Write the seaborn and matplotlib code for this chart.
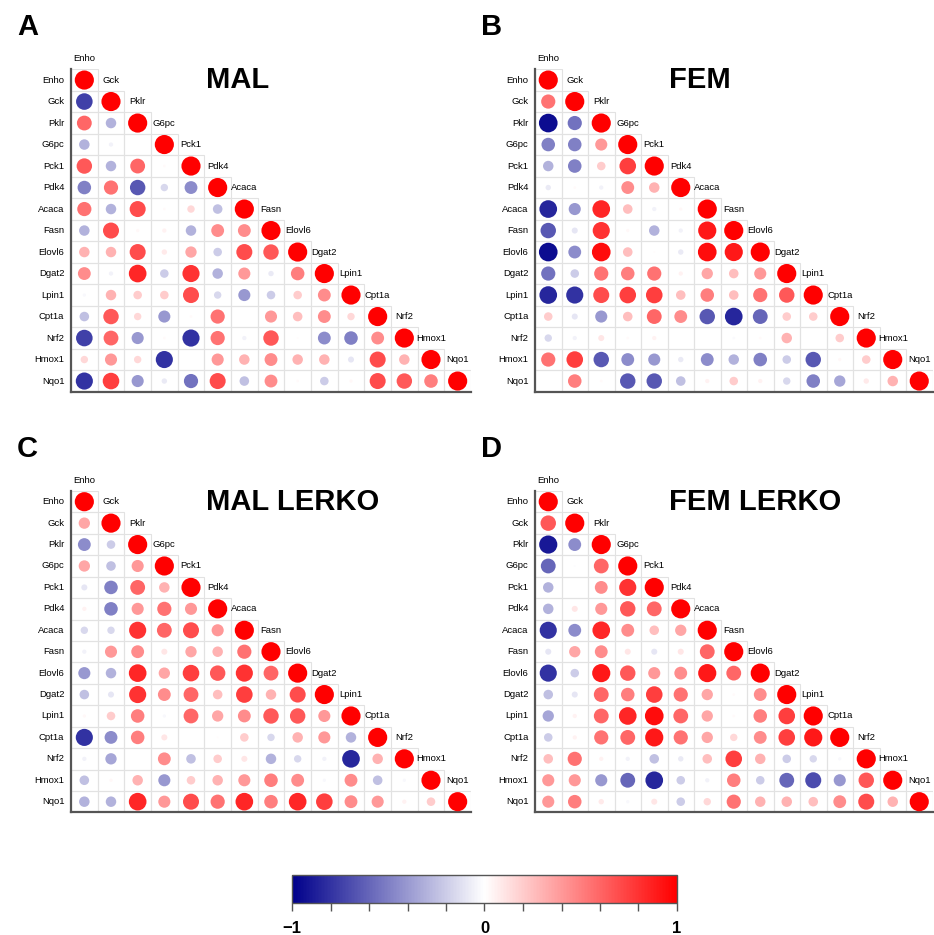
import numpy as np
import pandas as pd
import seaborn as sns
import matplotlib.pyplot as plt
from matplotlib.colors import LinearSegmentedColormap, Normalize
from matplotlib.cm import ScalarMappable
from matplotlib.patches import Rectangle

genes = ['Enho', 'Gck', 'Pklr', 'G6pc', 'Pck1', 'Pdk4', 'Acaca', 'Fasn',
         'Elovl6', 'Dgat2', 'Lpin1', 'Cpt1a', 'Nrf2', 'Hmox1', 'Nqo1']

# lower triangle, one list per row (without the diagonal)
mal = [
    [],
    [-0.75],
    [0.6, -0.3],
    [-0.3, -0.05, 0.0],
    [0.65, -0.3, 0.6, 0.02],
    [-0.5, 0.55, -0.65, -0.15, -0.45],
    [0.55, -0.3, 0.7, 0.02, 0.15, -0.25],
    [-0.3, 0.7, 0.03, 0.05, -0.3, 0.45, 0.45],
    [0.3, 0.3, 0.7, 0.08, 0.35, -0.2, 0.7, 0.65],
    [0.45, -0.05, 0.85, -0.2, 0.8, -0.3, 0.4, -0.08, 0.5],
    [-0.03, 0.3, 0.2, 0.2, 0.7, -0.15, -0.4, -0.2, 0.2, 0.45],
    [-0.25, 0.65, 0.15, -0.4, 0.02, 0.55, 0.0, 0.4, 0.25, 0.45, 0.15],
    [-0.75, 0.6, -0.4, 0.02, -0.8, 0.55, -0.05, 0.65, 0.01, -0.45, -0.5, 0.45],
    [0.15, 0.4, 0.15, -0.8, 0.0, 0.4, 0.3, 0.45, 0.3, 0.3, -0.1, 0.7, 0.3],
    [-0.8, 0.75, -0.4, -0.08, -0.55, 0.7, -0.25, 0.45, 0.02, -0.2, 0.03, 0.7, 0.65, 0.5],
]

fem = [
    [],
    [0.55],
    [-0.95, -0.55],
    [-0.5, -0.5, 0.4],
    [-0.3, -0.5, 0.2, 0.75],
    [-0.08, 0.02, -0.05, 0.45, 0.3],
    [-0.85, -0.4, 0.85, 0.25, -0.05, 0.03],
    [-0.65, -0.1, 0.8, 0.03, -0.3, -0.05, 0.9],
    [-0.95, -0.45, 0.95, 0.25, 0.01, -0.08, 0.95, 0.9],
    [-0.55, -0.2, 0.55, 0.5, 0.55, 0.05, 0.35, 0.25, 0.4],
    [-0.85, -0.8, 0.7, 0.75, 0.75, 0.25, 0.5, 0.25, 0.55, 0.65],
    [0.2, -0.1, -0.4, 0.25, 0.6, 0.45, -0.65, -0.85, -0.6, 0.2, 0.2],
    [-0.15, -0.05, 0.1, 0.02, 0.05, 0.0, 0.0, -0.02, 0.02, 0.3, 0.0, 0.2],
    [0.55, 0.75, -0.65, -0.45, -0.4, -0.08, -0.45, -0.3, -0.5, -0.2, -0.65, 0.03, 0.2],
    [0.0, 0.5, 0.02, -0.65, -0.65, -0.25, 0.05, 0.2, 0.05, -0.15, -0.5, -0.35, 0.08, 0.3],
]

mal_lerko = [
    [],
    [0.35],
    [-0.45, -0.2],
    [0.35, -0.25, 0.4],
    [-0.1, -0.5, 0.6, 0.3],
    [0.05, -0.5, 0.4, 0.55, 0.4],
    [-0.15, -0.15, 0.8, 0.6, 0.7, 0.4],
    [-0.05, 0.4, 0.45, 0.1, 0.35, 0.3, 0.55],
    [-0.4, -0.3, 0.85, 0.35, 0.75, 0.65, 0.8, 0.6],
    [-0.25, -0.1, 0.8, 0.45, 0.6, 0.25, 0.75, 0.3, 0.7],
    [0.03, 0.2, 0.5, -0.03, 0.6, 0.35, 0.45, 0.65, 0.65, 0.4],
    [-0.8, -0.45, 0.5, 0.1, 0.0, 0.01, 0.2, -0.15, 0.3, 0.4, -0.3],
    [-0.05, -0.35, 0.0, 0.45, -0.25, 0.2, 0.1, -0.3, -0.15, -0.05, -0.85, 0.3],
    [-0.25, 0.03, 0.3, -0.4, 0.2, 0.3, 0.4, 0.5, 0.45, -0.03, 0.45, -0.25, -0.03],
    [-0.3, -0.3, 0.85, 0.4, 0.7, 0.55, 0.85, 0.5, 0.85, 0.75, 0.45, 0.4, 0.05, 0.2],
]

fem_lerko = [
    [],
    [0.65],
    [-0.9, -0.45],
    [-0.6, -0.01, 0.6],
    [-0.3, 0.0, 0.45, 0.8],
    [-0.3, 0.1, 0.4, 0.65, 0.6],
    [-0.8, -0.45, 0.85, 0.45, 0.25, 0.35],
    [-0.1, 0.35, 0.45, 0.1, -0.1, 0.1, 0.6],
    [-0.8, -0.2, 0.9, 0.65, 0.4, 0.45, 0.9, 0.6],
    [-0.25, -0.1, 0.6, 0.5, 0.75, 0.55, 0.35, 0.02, 0.45],
    [-0.35, 0.05, 0.6, 0.85, 0.95, 0.6, 0.35, 0.02, 0.5, 0.75],
    [-0.2, 0.05, 0.55, 0.6, 0.9, 0.55, 0.35, 0.15, 0.45, 0.75, 0.9],
    [0.25, 0.55, 0.05, -0.05, -0.25, -0.08, 0.25, 0.75, 0.3, -0.2, -0.15, -0.03],
    [0.4, 0.4, -0.4, -0.6, -0.85, -0.2, -0.05, 0.5, -0.2, -0.6, -0.7, -0.4, 0.65],
    [0.4, 0.5, 0.08, -0.03, 0.1, -0.2, 0.15, 0.55, 0.3, 0.3, 0.25, 0.45, 0.7, 0.3],
]

panels = [('A', 'MAL', mal), ('B', 'FEM', fem),
          ('C', 'MAL LERKO', mal_lerko), ('D', 'FEM LERKO', fem_lerko)]

sns.set_style('white')
plt.rcParams['font.family'] = ['Liberation Sans', 'DejaVu Sans']
plt.rcParams['text.color'] = 'black'

cmap = LinearSegmentedColormap.from_list('bwr2', ['#00008B', '#FFFFFF', '#FF0000'])

W, H = 934, 935
fig = plt.figure(figsize=(W / 100, H / 100), dpi=100)

# panel boxes in pixels: left, top, width, height
boxes = [(71, 69.3, 400, 322.5), (535, 69.3, 397.5, 322.5),
         (71, 491, 400, 321.4), (535, 491, 397.5, 321.4)]
n = len(genes)


def to_long(tri):
    rows = []
    for i, vals in enumerate(tri):
        for j, v in enumerate(list(vals) + [1.0]):
            rows.append({'row': i, 'col': j, 'r': v, 'absr': abs(v)})
    return pd.DataFrame(rows)


for (letter, title, tri), (l, t, w, h) in zip(panels, boxes):
    ax = fig.add_axes([l / W, 1 - (t + h) / H, w / W, h / H])
    df = to_long(tri)

    # light grid on the lower triangle
    for i in range(n):
        for j in range(i + 1):
            ax.add_patch(Rectangle((j - 0.5, i - 0.5), 1, 1, fill=False,
                                   edgecolor='#e2e2e2', lw=0.8, zorder=0))

    sns.scatterplot(data=df, x='col', y='row', hue='r', hue_norm=(-1, 1),
                    palette=cmap, size='absr', size_norm=(0, 1), sizes=(0, 190),
                    linewidth=0, legend=False, ax=ax, zorder=3)

    ax.set_xlim(-0.5, n - 0.5)
    ax.set_ylim(n - 0.5, -0.5)
    ax.set_xticks([])
    ax.set_yticks([])
    ax.set_xlabel('')
    ax.set_ylabel('')
    for s in ['top', 'right']:
        ax.spines[s].set_visible(False)
    for s in ['left', 'bottom']:
        ax.spines[s].set_color('#555555')
        ax.spines[s].set_linewidth(1.6)

    for i, g in enumerate(genes):
        ax.text(-0.75, i, g, ha='right', va='center', fontsize=6.8, clip_on=False)
        ax.text(i, i - 1, g, ha='center', va='center', fontsize=6.8, clip_on=False)

    ax.text(4.55, 0.0, title, ha='left', va='center', fontsize=21, fontweight='bold')
    fig.text((l - 54) / W, 1 - (t - 42) / H, letter, ha='left', va='center',
             fontsize=21, fontweight='bold')

# colour bar
cax = fig.add_axes([292 / W, 1 - 903 / H, 385 / W, 28 / H])
sm = ScalarMappable(norm=Normalize(-1, 1), cmap=cmap)
cb = fig.colorbar(sm, cax=cax, orientation='horizontal')
ticks = np.linspace(-1, 1, 11)
cb.set_ticks(ticks)
cb.set_ticklabels(['\u22121', '', '', '', '', '0', '', '', '', '', '1'])
cb.outline.set_edgecolor('#555555')
cb.outline.set_linewidth(1.0)
cax.tick_params(axis='x', direction='out', length=6, width=1, color='#555555',
                labelsize=12, labelcolor='black', pad=7)
for lab in cax.get_xticklabels():
    lab.set_fontweight('bold')

fig.savefig('out.png', dpi=100)
